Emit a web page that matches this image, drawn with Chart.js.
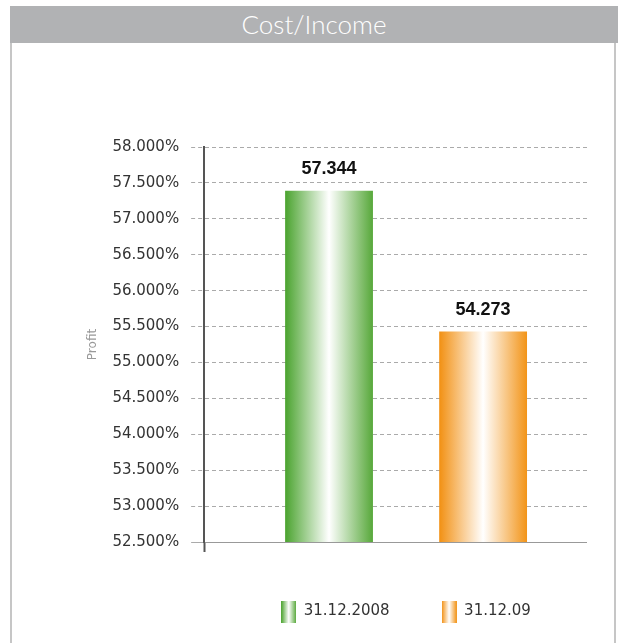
<!DOCTYPE html>
<html>
<head>
<meta charset="utf-8">
<script src="https://cdn.jsdelivr.net/npm/chart.js@4.4.1/dist/chart.umd.min.js"></script>
<style>
html, body { margin: 0; padding: 0; background: #fff; width: 618px; height: 643px; overflow: hidden; }
#title { position: absolute; left: 10px; top: 6px; width: 608px; height: 37px; background: #b1b2b4; color: #fff;
  font-family: Lato, sans-serif; font-weight: 300; font-size: 26px; line-height: 37px; text-align: center; }
#box { position: absolute; left: 10px; top: 43px; width: 602px; height: 620px;
  border-left: 2px solid #c6c6c6; border-right: 2px solid #c6c6c6; }
#chart { position: absolute; left: 12px; top: 44px; }
</style>
</head>
<body>
<div id="title">Cost/Income</div>
<div id="box"></div>
<canvas id="chart" width="602" height="599"></canvas>
<script>
const categories = ['Cost/Income'];
const seriesNames = ['31.12.2008', '31.12.09'];
const seriesValues = [57.39, 55.43];
const valueLabels = ['57.344', '54.273'];
const yTicks = [52.5, 53, 53.5, 54, 54.5, 55, 55.5, 56, 56.5, 57, 57.5, 58];
const edgeColors = [['#4aa32e', '#57a83a'], ['#f29012', '#f29418']];

function makeGradient(ctx, x0, x1, edges) {
    const g = ctx.createLinearGradient(x0, 0, x1, 0);
    g.addColorStop(0, edges[0]);
    g.addColorStop(0.5, '#ffffff');
    g.addColorStop(1, edges[1]);
    return g;
}

// small canvas used as legend swatch
function legendSwatch(edges) {
    const c = document.createElement('canvas');
    c.width = 15;
    c.height = 22;
    const cx = c.getContext('2d');
    cx.fillStyle = makeGradient(cx, 0, 15, edges);
    cx.fillRect(0, 0, 15, 22);
    return c;
}

// grid lines in the original stop a bit short of the plot's right edge
const gridTrimPlugin = {
    id: 'gridTrim',
    beforeDatasetsDraw(chart) {
        const a = chart.chartArea;
        const ctx = chart.ctx;
        ctx.save();
        ctx.fillStyle = '#fff';
        ctx.fillRect(a.right - 21, a.top - 3, 24, a.bottom - a.top + 6);
        ctx.restore();
    }
};

const valueLabelPlugin = {
    id: 'valueLabels',
    afterDatasetsDraw(chart) {
        const ctx = chart.ctx;
        ctx.save();
        ctx.font = 'bold 18px "Liberation Sans", Arial, sans-serif';
        ctx.fillStyle = '#111';
        ctx.textAlign = 'center';
        ctx.textBaseline = 'alphabetic';
        chart.data.datasets.forEach((ds, i) => {
            const el = chart.getDatasetMeta(i).data[0];
            ctx.fillText(valueLabels[i], el.x, el.y - 17);
        });
        ctx.restore();
    }
};

const datasets = seriesNames.map((name, i) => ({
    label: name,
    data: [seriesValues[i]],
    backgroundColor: (c) => {
        const el = c.element;
        if (!el || el.x === undefined || !el.width) return edgeColors[i][0];
        return makeGradient(c.chart.ctx, el.x - el.width / 2, el.x + el.width / 2, edgeColors[i]);
    },
    borderWidth: 0,
    categoryPercentage: 0.763,
    barPercentage: 0.57
}));

const chart = new Chart(document.getElementById('chart'), {
    type: 'bar',
    data: { labels: categories, datasets: datasets },
    plugins: [gridTrimPlugin, valueLabelPlugin],
    options: {
        responsive: false,
        animation: false,
        layout: { padding: { top: 103, right: 6, bottom: 14, left: 70 } },
        plugins: {
            tooltip: { enabled: false },
            legend: {
                position: 'bottom',
                fullSize: false,
                labels: {
                    usePointStyle: true,
                    pointStyleWidth: 15,
                    padding: 52,
                    color: '#333',
                    font: { family: '"DejaVu Sans", sans-serif', size: 15 },
                    generateLabels: () => seriesNames.map((name, i) => ({
                        text: name,
                        pointStyle: legendSwatch(edgeColors[i]),
                        fillStyle: edgeColors[i][0],
                        strokeStyle: 'transparent',
                        lineWidth: 0,
                        fontColor: '#333',
                        datasetIndex: i
                    }))
                }
            }
        },
        scales: {
            x: {
                ticks: { display: false },
                grid: {
                    drawOnChartArea: false,
                    drawTicks: true,
                    tickLength: 10,
                    tickWidth: 2,
                    tickColor: (c) => c.index === 0 ? '#555' : 'rgba(0,0,0,0)'
                },
                border: { display: true, color: '#999', width: 1 }
            },
            y: {
                min: yTicks[0],
                max: yTicks[yTicks.length - 1],
                afterBuildTicks: (scale) => { scale.ticks = yTicks.map(v => ({ value: v })); },
                ticks: {
                    padding: 12,
                    color: '#333',
                    font: { family: '"DejaVu Sans", sans-serif', size: 15 },
                    callback: (v) => v.toFixed(3) + '%'
                },
                grid: {
                    color: '#aaa',
                    lineWidth: 1,
                    tickLength: 13,
                    tickColor: '#aaa',
                    tickBorderDash: (c) => c.tick && c.tick.value === yTicks[0] ? [] : [4, 3]
                },
                border: {
                    display: true,
                    color: '#555',
                    width: 2,
                    dash: (c) => c.tick && c.tick.value === yTicks[0] ? [] : [4, 3]
                },
                title: {
                    display: true,
                    text: 'Profit',
                    color: '#999',
                    font: { family: '"DejaVu Sans", sans-serif', size: 12 },
                    padding: { top: 4, bottom: 0 }
                }
            }
        }
    }
});
// second pass so the bar gradients know their element positions
chart.update();
</script>
</body>
</html>
